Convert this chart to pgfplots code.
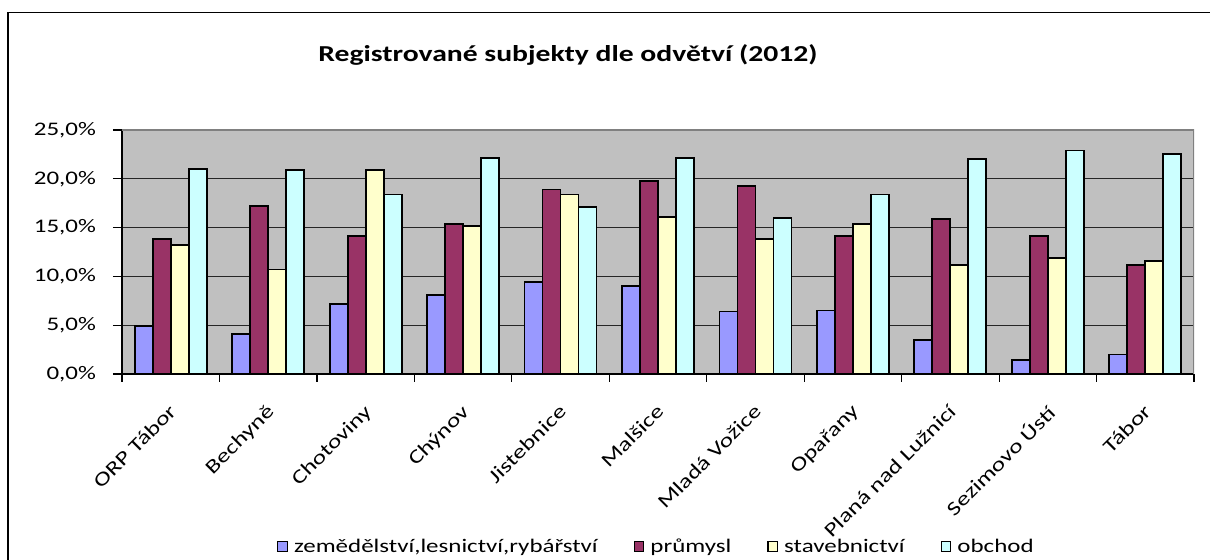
\documentclass[border=0pt]{standalone}
\usepackage{pgfplots}
\pgfplotsset{compat=1.18}
\usepackage{pgfplotstable}
\usepackage{fontspec}
\setmainfont[FakeStretch=1.3]{Carlito}
\definecolor{cA}{HTML}{9999FF}
\definecolor{cB}{HTML}{993366}
\definecolor{cC}{HTML}{FFFFCC}
\definecolor{cD}{HTML}{CCFFFF}
\definecolor{bgc}{HTML}{C0C0C0}
\pgfplotstableread{
x a b c d
0 4.9 13.8 13.2 21.0
1 4.1 17.2 10.7 20.9
2 7.2 14.1 20.9 18.4
3 8.1 15.4 15.2 22.1
4 9.4 18.9 18.4 17.1
5 9.0 19.8 16.1 22.1
6 6.4 19.3 13.8 16.0
7 6.5 14.1 15.4 18.4
8 3.5 15.9 11.2 22.0
9 1.4 14.1 11.9 22.9
10 2.0 11.2 11.6 22.5
}\data
\pgfplotsset{
  sq/.style={legend image code/.code={\draw[##1, draw=black, line width=0.6pt] (0pt,-2.2pt) rectangle (4.8pt,2.6pt);}},
  mybar/.style={ybar, bar width=9pt, bar shift=#1, draw=black, line width=0.9pt, sq},
}
\begin{document}
\begin{tikzpicture}
\path[use as bounding box] (0,0) rectangle (605pt,280pt);
\draw[line width=0.8pt] (4pt,-10pt) rectangle (620pt,273.75pt);
\node[font=\fontsize{11.4}{13}\selectfont\bfseries] at (284pt,252.5pt) {Registrované subjekty dle odvětví (2012)};
\begin{axis}[
  at={(61pt,93pt)}, anchor=south west,
  width=536pt, height=122pt, scale only axis,
  axis background/.style={fill=bgc},
  xmin=-0.5, xmax=10.5, ymin=0, ymax=25,
  axis x line*=bottom, axis y line*=left,
  axis line style={black, line width=0.6pt},
  ytick={0,5,10,15,20,25},
  yticklabels={{0,0\%},{5,0\%},{10,0\%},{15,0\%},{20,0\%},{25,0\%}},
  ymajorgrids, major grid style={black!85, line width=0.5pt},
  xtick={0,...,10},
  xticklabels={ORP Tábor,Bechyně,Chotoviny,Chýnov,Jistebnice,Malšice,Mladá Vožice,Opařany,Planá nad Lužnicí,Sezimovo Ústí,Tábor},
  minor xtick={-0.5,0.5,...,10.5},
  every major x tick/.append style={draw=none},
  tick align=outside, major tick length=4.5pt, minor tick length=4pt,
  tick style={black, line width=0.6pt},
  xticklabel style={rotate=45, anchor=north east, inner sep=1pt, yshift=-5pt, xshift=-7pt, font=\fontsize{9.8}{11}\selectfont},
  yticklabel style={font=\fontsize{9.6}{11}\selectfont, xshift=-5pt},
  legend style={at={(0.4995,-0.709)}, anchor=center, legend columns=4, draw=none, fill=none,
    font=\fontsize{9.6}{11}\selectfont, /tikz/every even column/.append style={column sep=16pt},
    /tikz/every odd column/.append style={column sep=1pt}},
]
\addplot[mybar=-13.5pt, fill=cA] table[x=x,y=a] {\data};
\addplot[mybar=-4.5pt, fill=cB] table[x=x,y=b] {\data};
\addplot[mybar=4.5pt, fill=cC] table[x=x,y=c] {\data};
\addplot[mybar=13.5pt, fill=cD] table[x=x,y=d] {\data};
\legend{{zemědělství,lesnictví,rybářství},průmysl,stavebnictví,obchod}
\draw[gray, line width=0.6pt] (rel axis cs:0,1) -- (rel axis cs:1,1) -- (rel axis cs:1,0);
\end{axis}
\end{tikzpicture}
\end{document}
